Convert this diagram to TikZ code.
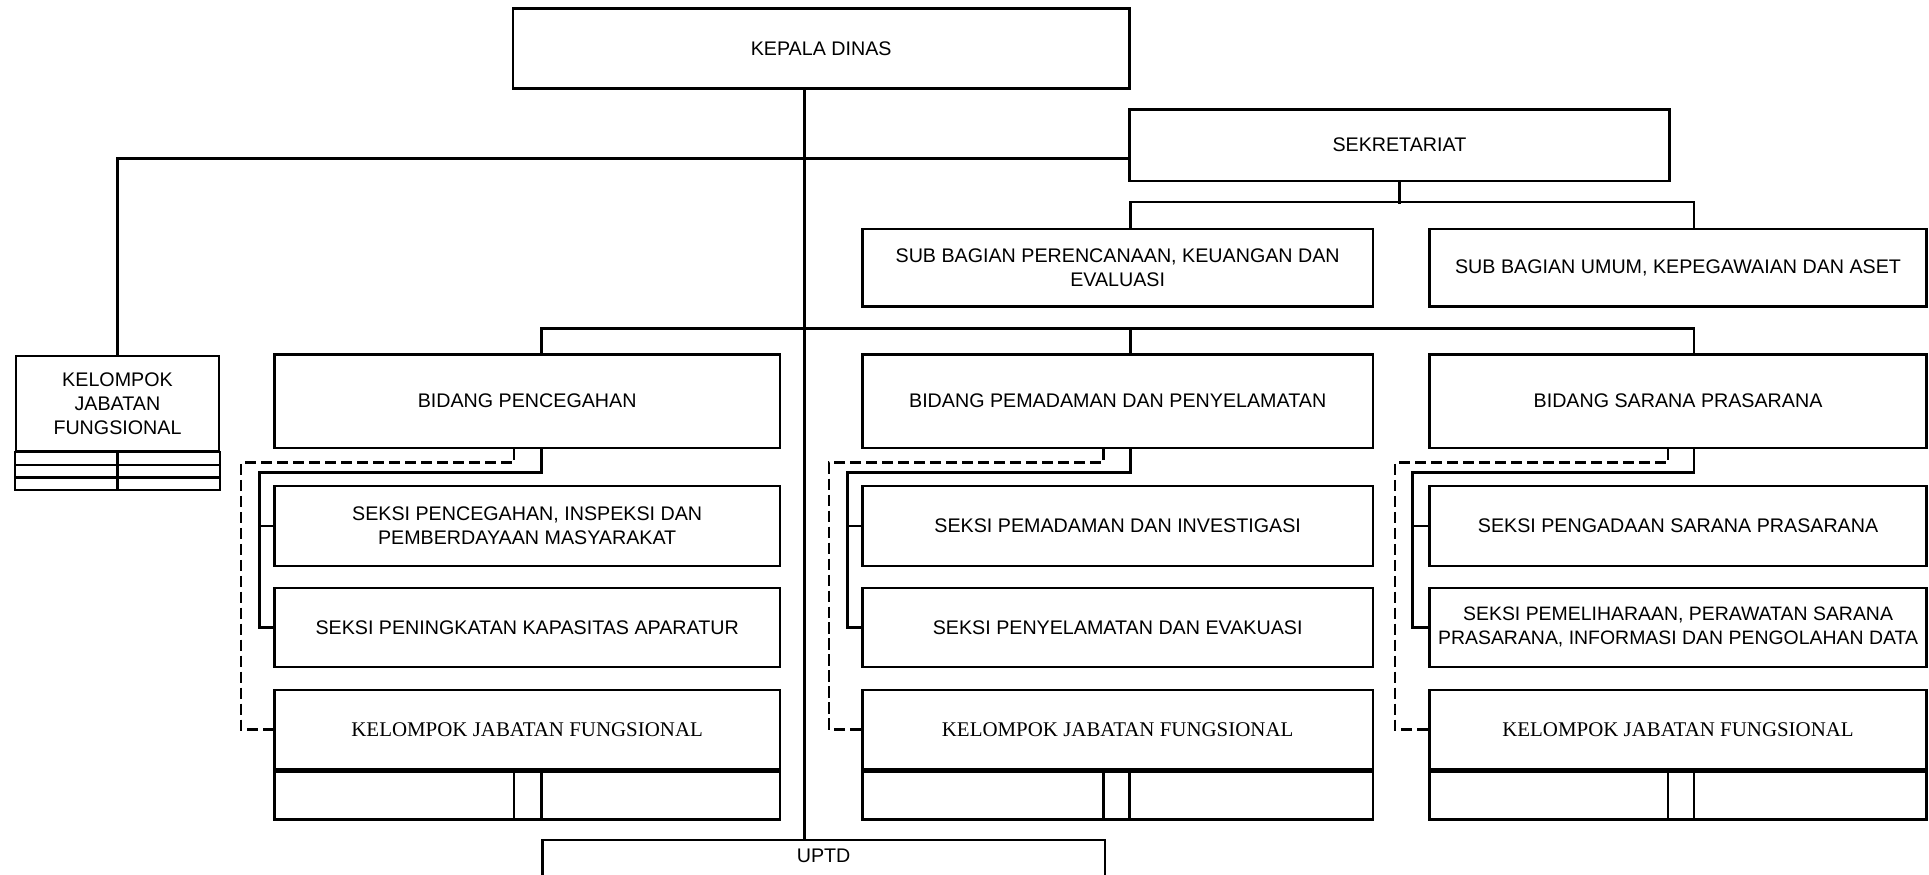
\documentclass[tikz,border=0pt]{standalone}
\usepackage{fontspec}
\setmainfont{Liberation Sans}
\newfontfamily\kjffont{Liberation Serif}
\usetikzlibrary{calc}
\begin{document}
\begin{tikzpicture}[x=1pt,y=-1pt,
  box/.style={draw, line width=2pt, rectangle, inner sep=0pt, align=center,
    font=\fontsize{16}{19.5}\selectfont},
  kjf/.style={box, font=\kjffont\fontsize{17}{20}\selectfont},
  ln/.style={line width=2pt},
  dsh/.style={line width=2pt, dash pattern=on 9pt off 4pt}]
\useasboundingbox (0,0) rectangle (1568,711);
% top
\node[box, minimum width=501, minimum height=65] (kd) at (667.5,39.5) {KEPALA DINAS};
\node[box, minimum width=439, minimum height=58] (sek) at (1137.5,118) {SEKRETARIAT};
\node[box, minimum width=415, minimum height=63] (sbp) at (908.5,217.5) {SUB BAGIAN PERENCANAAN, KEUANGAN DAN\\EVALUASI};
\node[box, minimum width=404, minimum height=63] (sbu) at (1364,217.5) {SUB BAGIAN UMUM, KEPEGAWAIAN DAN ASET};
% left functional group
\node[box, minimum width=165, minimum height=77] (kjl) at (95.5,328) {KELOMPOK\\JABATAN\\FUNGSIONAL};
\draw[ln] (kjl.south west) rectangle ($(kjl.south east)+(0,31)$);
\draw[ln] ($(kjl.south west)+(0,10.5)$) -- ($(kjl.south east)+(0,10.5)$);
\draw[ln] ($(kjl.south west)+(0,20.5)$) -- ($(kjl.south east)+(0,20.5)$);
\draw[ln] (kjl.south) -- ($(kjl.south)+(0,31)$);
% bidang
\node[box, minimum width=411, minimum height=76] (bp) at (428.5,326) {BIDANG PENCEGAHAN};
\node[box, minimum width=415, minimum height=76] (bpp) at (908.5,326) {BIDANG PEMADAMAN DAN PENYELAMATAN};
\node[box, minimum width=404, minimum height=76] (bsp) at (1364,326) {BIDANG SARANA PRASARANA};
% seksi
\node[box, minimum width=411, minimum height=65] (sa1) at (428.5,427.5) {SEKSI PENCEGAHAN, INSPEKSI DAN\\PEMBERDAYAAN MASYARAKAT};
\node[box, minimum width=411, minimum height=64] (sa2) at (428.5,510) {SEKSI PENINGKATAN KAPASITAS APARATUR};
\node[box, minimum width=415, minimum height=65] (sb1) at (908.5,427.5) {SEKSI PEMADAMAN DAN INVESTIGASI};
\node[box, minimum width=415, minimum height=64] (sb2) at (908.5,510) {SEKSI PENYELAMATAN DAN EVAKUASI};
\node[box, minimum width=404, minimum height=65] (sc1) at (1364,427.5) {SEKSI PENGADAAN SARANA PRASARANA};
\node[box, minimum width=404, minimum height=64, font=\fontsize{15.8}{19.5}\selectfont] (sc2) at (1364,510) {SEKSI PEMELIHARAAN, PERAWATAN SARANA\\PRASARANA, INFORMASI DAN PENGOLAHAN DATA};
% kelompok jabatan fungsional
\node[kjf, minimum width=411, minimum height=64] (ka) at (428.5,593) {KELOMPOK JABATAN FUNGSIONAL};
\node[box, minimum width=411, minimum height=39, anchor=north] (kab) at (ka.south) {};
\node[kjf, minimum width=415, minimum height=64] (kb) at (908.5,593) {KELOMPOK JABATAN FUNGSIONAL};
\node[box, minimum width=415, minimum height=39, anchor=north] (kbb) at (kb.south) {};
\node[kjf, minimum width=404, minimum height=64] (kc) at (1364,593) {KELOMPOK JABATAN FUNGSIONAL};
\node[box, minimum width=404, minimum height=39, anchor=north] (kcb) at (kc.south) {};
\draw[ln] ($(kab.north)+(-10.5,0)$) -- ($(kab.south)+(-10.5,0)$);
\draw[ln] ($(kab.north)+(11.5,0)$) -- ($(kab.south)+(11.5,0)$);
\draw[ln] ($(kbb.north)+(-11.5,0)$) -- ($(kbb.south)+(-11.5,0)$);
\draw[ln] ($(kbb.north)+(9.5,0)$) -- ($(kbb.south)+(9.5,0)$);
\draw[ln] ($(kcb.north)+(-8,0)$) -- ($(kcb.south)+(-8,0)$);
\draw[ln] ($(kcb.north)+(13,0)$) -- ($(kcb.south)+(13,0)$);
% UPTD
\node[box, minimum width=457, minimum height=60, anchor=north,
  label={[anchor=north, inner sep=0pt, yshift=-8pt, font=\fontsize{16}{19.5}\selectfont]north:UPTD}] (uptd) at (669.5,682) {};
% connectors
\draw[ln] ($(kd.south)+(-13.5,0)$) -- ($(uptd.north)+(-15.5,0)$);
\draw[ln] (kjl.north) |- ($(sek.west)+(0,11)$);
\draw[ln] (sek.south) -- ++(0,18);
\draw[ln] ($(sbp.north)+(10.5,0)$) -- ++(0,-21) -| ($(sbu.north)+(13,0)$);
\draw[ln] ($(bp.north)+(11.5,0)$) -- ++(0,-20) -| ($(bsp.north)+(13,0)$);
\draw[ln] ($(bpp.north)+(10.5,0)$) -- ++(0,-20);
% group a
\draw[ln] ($(bp.south)+(11.5,0)$) -- ++(0,19) -| ($(sa2.west)+(-11,0)$) -- (sa2.west);
\draw[ln] ($(sa1.west)+(-11,0)$) -- (sa1.west);
\draw[dsh] ($(bp.south)+(-10.5,0)$) -- ++(0,11) -| ($(ka.west)+(-26,0)$) -- (ka.west);
% group b
\draw[ln] ($(bpp.south)+(10.5,0)$) -- ++(0,19) -| ($(sb2.west)+(-11,0)$) -- (sb2.west);
\draw[ln] ($(sb1.west)+(-11,0)$) -- (sb1.west);
\draw[dsh] ($(bpp.south)+(-11.5,0)$) -- ++(0,11) -| ($(kb.west)+(-26,0)$) -- (kb.west);
% group c
\draw[ln] ($(bsp.south)+(13,0)$) -- ++(0,19) -| ($(sc2.west)+(-13,0)$) -- (sc2.west);
\draw[ln] ($(sc1.west)+(-13,0)$) -- (sc1.west);
\draw[dsh] ($(bsp.south)+(-8,0)$) -- ++(0,11) -| ($(kc.west)+(-27,0)$) -- (kc.west);
\end{tikzpicture}
\end{document}
